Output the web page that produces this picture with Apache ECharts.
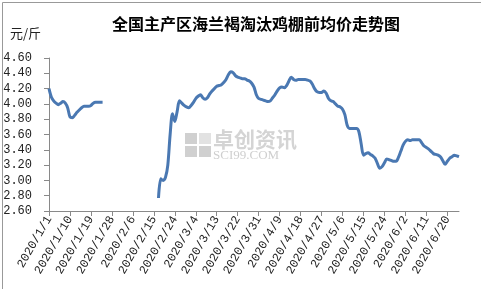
<!DOCTYPE html>
<html><head><meta charset="utf-8">
<script src="https://cdn.jsdelivr.net/npm/echarts@6/dist/echarts.min.js"></script>
<style>html,body{margin:0;padding:0;background:#fff}#c{width:481px;height:289px}</style>
</head><body><div id="c"></div>
<script>
var firstDate = '2020/1/1';
var lastDate = '2020/6/25';
var janStart = '2020/1/1';
var janValues = [4.20,4.09,4.04,4.01,3.99,4.01,4.03,4.01,3.95,3.83,3.82,3.85,3.89,3.92,3.95,3.97,3.97,3.97,3.98,4.01,4.02,4.02,4.02,4.02];
var springStart = '2020/2/17';
var springValues = [2.77,3.02,3.00,3.04,3.20,3.60,3.87,3.77,3.90,4.04,4.01,3.98,3.96,3.95,3.98,4.02,4.07,4.10,4.12,4.08,
4.06,4.08,4.13,4.17,4.20,4.23,4.24,4.25,4.28,4.32,4.38,4.42,4.41,4.37,4.35,4.34,4.33,4.33,4.31,4.30,
4.27,4.22,4.12,4.07,4.06,4.05,4.04,4.03,4.04,4.08,4.12,4.17,4.21,4.22,4.21,4.24,4.30,4.35,4.32,4.31,
4.32,4.32,4.32,4.32,4.31,4.30,4.26,4.20,4.16,4.15,4.15,4.17,4.14,4.07,4.04,4.03,4.00,3.97,3.96,3.93,
3.86,3.72,3.68,3.68,3.68,3.68,3.64,3.48,3.33,3.35,3.36,3.34,3.32,3.29,3.22,3.16,3.18,3.23,3.28,3.27,
3.26,3.25,3.25,3.30,3.38,3.46,3.51,3.53,3.52,3.53,3.53,3.53,3.53,3.49,3.45,3.43,3.41,3.38,3.35,3.34,
3.33,3.31,3.26,3.21,3.25,3.29,3.31,3.33,3.32,3.31];
var yTicks = ['2.60','2.80','3.00','3.20','3.40','3.60','3.80','4.00','4.20','4.40','4.60'];

function parse(s){var p=s.split('/');return new Date(Date.UTC(+p[0],+p[1]-1,+p[2]));}
function fmt(d){return d.getUTCFullYear()+'/'+(d.getUTCMonth()+1)+'/'+d.getUTCDate();}
var categories=[];
for(var t=parse(firstDate).getTime(); t<=parse(lastDate).getTime(); t+=86400000){categories.push(fmt(new Date(t)));}
var values=categories.map(function(){return null;});
function place(start, arr){var i0=categories.indexOf(start);arr.forEach(function(v,i){values[i0+i]=v;});}
place(janStart, janValues);
place(springStart, springValues);

var mono='"Liberation Mono", "DejaVu Sans Mono", monospace';
var chart=echarts.init(document.getElementById('c'));
chart.setOption({
  animation:false,
  title:{text:'全国主产区海兰褐淘汰鸡棚前均价走势图',left:251,textAlign:'center',top:11,
    textStyle:{fontSize:16,fontWeight:'bold',color:'#000',fontFamily:'"Noto Sans CJK SC", sans-serif'}},
  grid:{left:49,top:58,right:22,bottom:78,containLabel:false},
  xAxis:{type:'category',data:categories,boundaryGap:false,
    axisLine:{lineStyle:{color:'#898989',width:1}},
    axisTick:{interval:8,length:5,lineStyle:{color:'#898989'}},
    axisLabel:{interval:8,rotate:60,margin:6,fontSize:12,color:'#222',fontFamily:mono},
    splitLine:{show:false}},
  yAxis:{type:'value',min:2.6,max:4.6,interval:0.2,
    axisLine:{show:true,lineStyle:{color:'#898989',width:1}},
    axisTick:{show:true,length:5,lineStyle:{color:'#898989'}},
    axisLabel:{margin:17,fontSize:12,color:'#222',fontFamily:mono,
      formatter:function(v){return yTicks[Math.round((v-2.6)/0.2)]||v.toFixed(2);}},
    splitLine:{show:false}},
  series:[{type:'line',data:values,showSymbol:false,smooth:0.3,connectNulls:false,
    lineStyle:{color:'#4a78b2',width:3},itemStyle:{color:'#4a78b2'},z:3}],
  graphic:[
    {type:'rect',left:0,top:0,shape:{width:480,height:288},style:{fill:'none',stroke:'#999',lineWidth:1},silent:true},
    {type:'text',left:10,top:27,style:{text:'元/斤',fontSize:13,fill:'#222',fontFamily:'"Noto Sans CJK SC", sans-serif'}},
    {type:'rect',left:185,top:133,shape:{width:12,height:11},style:{fill:'#d0d0d0'},z:1},
    {type:'rect',left:199,top:133,shape:{width:12,height:11},style:{fill:'#e2e2e2'},z:1},
    {type:'rect',left:185,top:146,shape:{width:12,height:11},style:{fill:'#d0d0d0'},z:1},
    {type:'rect',left:199,top:146,shape:{width:12,height:11},style:{fill:'#d0d0d0'},z:1},
    {type:'text',left:213,top:129,style:{text:'卓创资讯',fontSize:21,fontWeight:'bold',fill:'#d4d4d4',fontFamily:'"Noto Sans CJK SC", sans-serif'},z:1},
    {type:'text',left:213,top:149,style:{text:'SCI99.COM',fontSize:13,fill:'#cfcfcf',fontFamily:'"Liberation Serif", serif'},z:1}
  ]
});
</script></body></html>
